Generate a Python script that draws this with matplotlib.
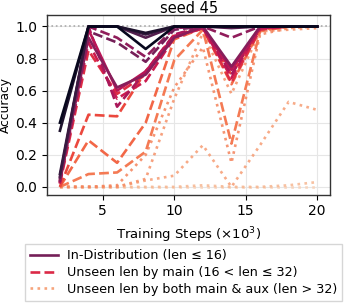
import matplotlib
matplotlib.use("Agg")
import matplotlib.pyplot as plt
import seaborn as sns
from matplotlib.lines import Line2D

steps = [2, 4, 6, 8, 10, 12, 14, 16, 18, 20]

# In-distribution (solid)
solid_series = [
    [0.40, 1.00, 1.00, 0.86, 1.00, 1.00, 1.00, 1.00, 1.00, 1.00],
    [0.35, 1.00, 1.00, 0.96, 1.00, 1.00, 1.00, 1.00, 1.00, 1.00],
    [0.08, 1.00, 1.00, 0.95, 1.00, 1.00, 1.00, 1.00, 1.00, 1.00],
    [0.06, 1.00, 1.00, 0.93, 1.00, 1.00, 0.99, 1.00, 1.00, 1.00],
    [0.04, 0.93, 0.62, 0.70, 0.93, 1.00, 0.75, 1.00, 1.00, 1.00],
    [0.03, 0.98, 0.60, 0.72, 0.94, 0.99, 0.73, 0.99, 1.00, 1.00],
]
# Unseen by main (dashed)
dashed_series = [
    [0.06, 0.97, 0.90, 0.78, 0.98, 1.00, 1.00, 1.00, 1.00, 1.00],
    [0.05, 1.00, 0.93, 0.81, 0.99, 1.00, 0.93, 1.00, 1.00, 1.00],
    [0.04, 1.00, 0.50, 0.72, 0.95, 1.00, 0.70, 1.00, 1.00, 1.00],
    [0.03, 0.90, 0.55, 0.66, 0.93, 0.99, 0.68, 0.99, 1.00, 1.00],
    [0.02, 0.85, 0.58, 0.70, 0.94, 0.99, 0.65, 0.98, 1.00, 1.00],
    [0.00, 0.45, 0.44, 0.72, 0.95, 0.99, 0.70, 0.99, 1.00, 1.00],
    [0.00, 0.29, 0.15, 0.40, 0.92, 0.99, 0.64, 0.98, 1.00, 1.00],
    [0.00, 0.08, 0.09, 0.22, 0.79, 0.98, 0.27, 0.97, 1.00, 1.00],
]
# Unseen by both (dotted)
dotted_series = [
    [0.00, 0.00, 0.01, 0.20, 0.62, 0.87, 0.15, 0.95, 0.99, 1.00],
    [0.00, 0.00, 0.00, 0.05, 0.55, 0.96, 0.58, 0.97, 0.98, 0.99],
    [0.00, 0.00, 0.00, 0.04, 0.07, 0.26, 0.00, 0.26, 0.53, 0.48],
    [0.00, 0.00, 0.00, 0.00, 0.00, 0.01, 0.00, 0.00, 0.01, 0.03],
    [0.00, 0.00, 0.00, 0.00, 0.00, 0.00, 0.00, 0.00, 0.00, 0.00],
]

solid_pos = [0.02, 0.08, 0.15, 0.22, 0.34, 0.46]
dashed_pos = [0.30, 0.36, 0.42, 0.50, 0.56, 0.62, 0.68, 0.72]
dotted_pos = [0.74, 0.77, 0.80, 0.86, 0.93]

legend_labels = [
    "In-Distribution (len ≤ 16)",
    "Unseen len by main (16 < len ≤ 32)",
    "Unseen len by both main & aux (len > 32)",
]

cmap = sns.color_palette("rocket", as_cmap=True)

fig = plt.figure(figsize=(3.46, 3.05), dpi=100)
ax = fig.add_axes([0.136, 0.362, 0.818, 0.589])

ax.grid(True, color="#e6e6e6", linewidth=0.8)
ax.set_axisbelow(True)
ax.axhline(1.0, color="#aaaaaa", linestyle=":", linewidth=1.2, zorder=1)

lw = 1.9
for vals, p in zip(dotted_series[::-1], dotted_pos[::-1]):
    ax.plot(steps, vals, linestyle=":", color=cmap(p), linewidth=lw, alpha=0.85)
for vals, p in zip(dashed_series[::-1], dashed_pos[::-1]):
    ax.plot(steps, vals, linestyle="--", color=cmap(p), linewidth=lw)
for vals, p in zip(solid_series[::-1], solid_pos[::-1]):
    ax.plot(steps, vals, linestyle="-", color=cmap(p), linewidth=lw)

ax.set_xlim(1.1, 20.9)
ax.set_ylim(-0.048, 1.072)
ax.set_xticks([5, 10, 15, 20])
ax.set_yticks([0.0, 0.2, 0.4, 0.6, 0.8, 1.0])
ax.tick_params(labelsize=10, length=3.5)
for s in ax.spines.values():
    s.set_color("#333333")
    s.set_linewidth(1.0)
ax.text(0.5, 1.012, "seed 45", transform=ax.transAxes, ha="center",
        va="baseline", fontsize=10.5)
ax.set_xlabel(r"Training Steps ($\times10^3$)", fontsize=9.5, labelpad=5)
ax.set_ylabel("Accuracy", fontsize=8.8)
ax.yaxis.set_label_coords(-0.125, 0.5)

handles = [
    Line2D([], [], color=cmap(0.30), linestyle="-", linewidth=lw),
    Line2D([], [], color=cmap(0.55), linestyle="--", linewidth=lw),
    Line2D([], [], color=cmap(0.82), linestyle=":", linewidth=lw),
]
fig.legend(handles, legend_labels, loc="lower center", bbox_to_anchor=(0.53, -0.008),
           fontsize=9.2, frameon=True, handlelength=2.2, borderpad=0.4,
           labelspacing=0.3, handletextpad=0.7, fancybox=False, edgecolor="#cccccc")

fig.savefig("out.png", dpi=100)
